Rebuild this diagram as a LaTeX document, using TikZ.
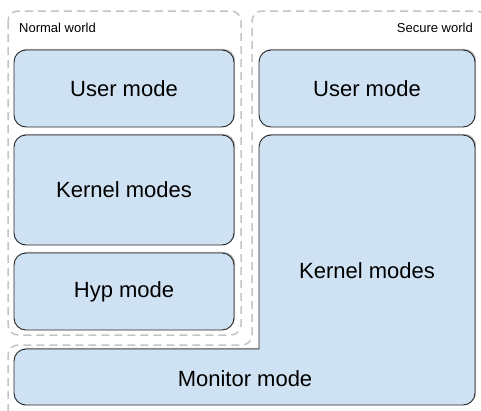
\documentclass[tikz,border=0pt]{standalone}
\usepackage{fontspec}
\setmainfont{Liberation Sans}
\usetikzlibrary{shadows}
\definecolor{modefill}{HTML}{CFE2F3}
\definecolor{worldgray}{HTML}{C4C4C4}
\tikzset{
  boxshadow/.style={drop shadow={shadow xshift=1.2pt, shadow yshift=1.2pt, opacity=0.45, fill=black!60}},
  modebox/.style={draw=black!85, line width=0.9pt, fill=modefill, rounded corners=12pt,
    boxshadow, font=\fontsize{22}{26}\selectfont, inner sep=0pt},
  modetext/.style={font=\fontsize{22}{26}\selectfont, inner sep=0pt},
  worldline/.style={draw=worldgray, line width=1.5pt, dash pattern=on 8pt off 5pt},
  worldlabel/.style={font=\fontsize{13}{15}\selectfont, inner sep=0pt}
}
\begin{document}
\begin{tikzpicture}[x=1pt,y=-1pt]
  \useasboundingbox (0,0) rectangle (481,410);

  % world outlines
  \draw[worldline, rounded corners=10pt] (8,11) rectangle (241,335);
  \draw[worldline, rounded corners=10pt] (8,425) -- (8,345) -- (252,345) -- (252,11) -- (486,11) -- (486,425);
  \node[worldlabel, anchor=base west] (nwlabel) at (19,32) {Normal world};
  \node[worldlabel, anchor=base east] (swlabel) at (473,32) {Secure world};

  % normal world modes
  \node[modebox, minimum width=220pt, minimum height=77pt] (nuser) at (124,88.5) {User mode};
  \node[modebox, minimum width=220pt, minimum height=110pt] (nkernel) at (124,190) {Kernel modes};
  \node[modebox, minimum width=220pt, minimum height=77pt] (hyp) at (124,291.5) {Hyp mode};

  % secure world modes
  \node[modebox, minimum width=216pt, minimum height=77pt] (suser) at (367,88.5) {User mode};

  % secure kernel modes joined with monitor mode
  \path[draw=black!85, line width=0.9pt, fill=modefill, boxshadow]
    (259,349) [rounded corners=12pt] -- (259,135) -- (475,135) -- (475,405) -- (14,405) -- (14,349) [sharp corners] -- cycle;
  \node[modetext] (skernel) at (367,271) {Kernel modes};
  \node[modetext] (monitor) at (245,379) {Monitor mode};
\end{tikzpicture}
\end{document}
